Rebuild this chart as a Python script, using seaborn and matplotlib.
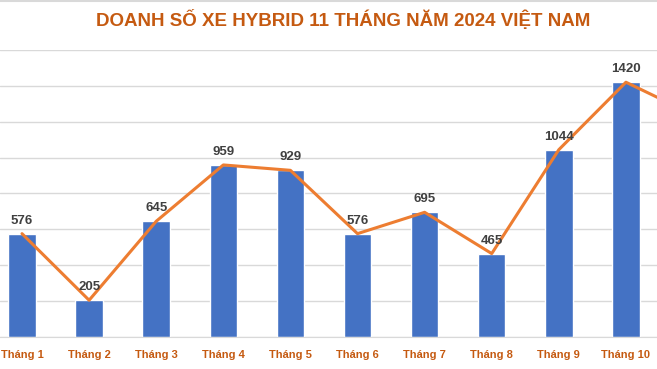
import numpy as np
import pandas as pd
import matplotlib
matplotlib.use("Agg")
import matplotlib.pyplot as plt
import seaborn as sns
from matplotlib.lines import Line2D

sns.set_style("white")
plt.rcParams['font.family'] = ['Liberation Sans', 'DejaVu Sans']

# Data (Tháng 11 is mostly cut off in the reference, value estimated)
months = ["Tháng 1", "Tháng 2", "Tháng 3", "Tháng 4", "Tháng 5", "Tháng 6",
          "Tháng 7", "Tháng 8", "Tháng 9", "Tháng 10", "Tháng 11"]
sales = [576, 205, 645, 959, 929, 576, 695, 465, 1044, 1420, 1240]

df = pd.DataFrame({"month": months, "sales": sales})

bar_color = "#4472C4"
line_color = "#ED7D31"
text_color = "#C55A11"
grid_color = "#D9D9D9"

fig = plt.figure(figsize=(6.57, 3.69), dpi=100)
ax = fig.add_axes([0, 0.0867, 1, 0.778])

sns.barplot(data=df, x="month", y="sales", color=bar_color, width=0.41,
            saturation=1, ax=ax, zorder=2)
sns.lineplot(x=np.arange(len(sales)), y=sales, color=line_color,
             linewidth=2.2, ax=ax, zorder=3)

# data labels
for i, v in enumerate(sales):
    ax.annotate(str(v), (i, v), xytext=(0, 5), textcoords="offset points",
                ha="center", va="bottom", fontsize=9.5, fontweight="bold",
                color="#404040", zorder=4)

ax.set_xlim(-0.328, 9.463)
ax.set_ylim(0, 1600)
ax.set_yticks(range(0, 1601, 200))
ax.yaxis.grid(True, color=grid_color, linewidth=1)
ax.set_axisbelow(True)
ax.tick_params(axis="y", left=False, labelleft=False)
ax.tick_params(axis="x", bottom=False, pad=6, labelsize=8, labelcolor=text_color)
for lab in ax.get_xticklabels():
    lab.set_fontweight("bold")
ax.set_xlabel("")
ax.set_ylabel("")
for s in ["top", "right", "left"]:
    ax.spines[s].set_visible(False)
ax.spines["bottom"].set_color(grid_color)

# chart border at the top
fig.add_artist(Line2D([0, 1], [0.997, 0.997], color=grid_color, linewidth=1.5,
                      transform=fig.transFigure))

fig.text(0.522, 0.945, "DOANH SỐ XE HYBRID 11 THÁNG NĂM 2024 VIỆT NAM",
         ha="center", va="center", fontsize=13.5, fontweight="bold",
         color=text_color)

fig.savefig("out.png", dpi=100)
